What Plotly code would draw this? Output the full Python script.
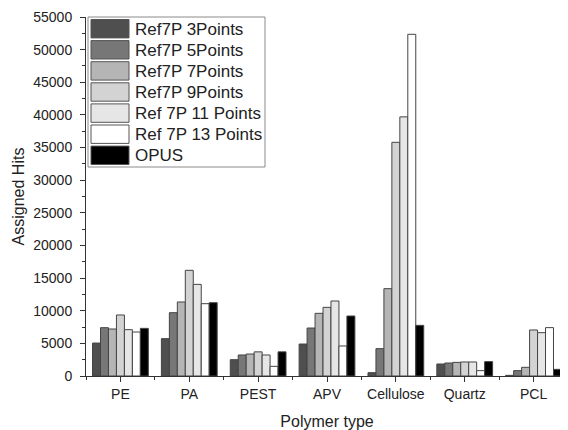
import plotly.graph_objects as go

polymers = ["PE", "PA", "PEST", "APV", "Cellulose", "Quartz", "PCL"]

ref7p_3 = [5050, 5720, 2500, 4900, 510, 1840, 100]
ref7p_5 = [7400, 9700, 3220, 7350, 4190, 1990, 820]
ref7p_7 = [7200, 11340, 3370, 9600, 13380, 2090, 1330]
ref7p_9 = [9350, 16190, 3700, 10520, 35800, 2150, 7050]
ref7p_11 = [7100, 14040, 3220, 11490, 39700, 2150, 6640]
ref7p_13 = [6740, 11080, 1480, 4600, 52350, 820, 7410]
opus = [7300, 11230, 3700, 9190, 7760, 2200, 1020]

series = [
    ("Ref7P 3Points", ref7p_3, "#4f4f4f"),
    ("Ref7P 5Points", ref7p_5, "#777777"),
    ("Ref7P 7Points", ref7p_7, "#b5b5b5"),
    ("Ref7P 9Points", ref7p_9, "#d3d3d3"),
    ("Ref 7P 11 Points", ref7p_11, "#e6e6e6"),
    ("Ref 7P 13 Points", ref7p_13, "#ffffff"),
    ("OPUS", opus, "#000000"),
]

font = "Liberation Sans, Arial, sans-serif"
xpos = list(range(len(polymers)))

# the page body has an 8px margin, so the figure is drawn 8px smaller
# plot area on the page: x 86..568, y 17..376
def px(x):
    return (x - 86) / 482

def py(y):
    return (376 - y) / 359

fig = go.Figure()
for name, vals, color in series:
    fig.add_trace(go.Bar(
        x=xpos, y=vals, name=name, showlegend=False,
        marker=dict(color=color, line=dict(color="#444444", width=1)),
    ))

# Origin-style legend with wide swatches
shapes = [dict(type="rect", xref="paper", yref="paper",
               x0=px(88), x1=px(265), y0=py(167), y1=py(17),
               line=dict(color="#8a8a8a", width=1), fillcolor="white", layer="above")]
annotations = []
for i, (name, vals, color) in enumerate(series):
    top = 19.5 + i * 21.1
    shapes.append(dict(type="rect", xref="paper", yref="paper",
                       x0=px(91), x1=px(129), y0=py(top + 18.4), y1=py(top),
                       line=dict(color="#555555", width=1), fillcolor=color, layer="above"))
    annotations.append(dict(text=name, xref="paper", yref="paper",
                            x=px(133), y=py(top + 9.5), xanchor="left", yanchor="middle",
                            showarrow=False, font=dict(size=17, color="#222222")))

fig.update_layout(
    width=560, height=422,
    margin=dict(l=78, r=0, t=9, b=54),
    barmode="group", bargap=0.19, bargroupgap=0,
    plot_bgcolor="white", paper_bgcolor="white",
    font=dict(family=font, size=14, color="#222222"),
    shapes=shapes, annotations=annotations,
)
fig.update_xaxes(
    range=[-0.5, 6.5], tickvals=xpos, ticktext=polymers,
    showline=True, linecolor="#333333", linewidth=1,
    ticks="outside", ticklen=5, tickcolor="#333333",
    minor=dict(tick0=0.5, dtick=1, ticks="outside", ticklen=3, tickcolor="#333333"),
    showgrid=False, zeroline=False, automargin=False,
    title=dict(text="Polymer type", font=dict(size=16), standoff=16),
)
fig.update_yaxes(
    range=[0, 55000], dtick=5000, tickformat="d",
    showline=True, linecolor="#333333", linewidth=1,
    ticks="outside", ticklen=5, tickcolor="#333333", ticklabelstandoff=5,
    minor=dict(dtick=2500, ticks="outside", ticklen=3, tickcolor="#333333"),
    showgrid=False, zeroline=False, automargin=False,
    title=dict(text="Assigned Hits", font=dict(size=16), standoff=4),
)

fig.write_html("out.html")
